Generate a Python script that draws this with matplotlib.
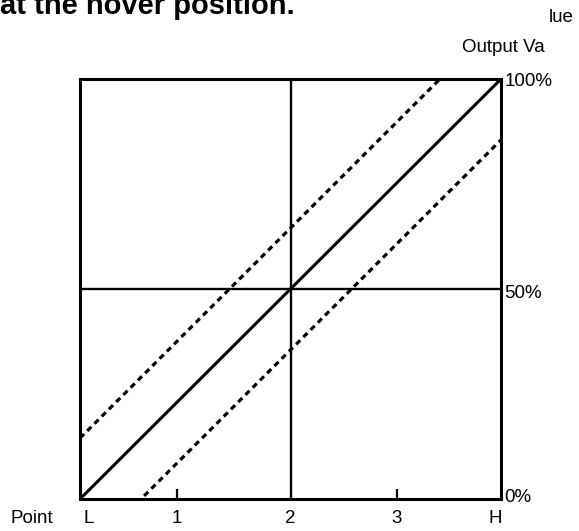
import matplotlib.pyplot as plt
import numpy as np

plt.rcParams['font.family'] = ['Liberation Sans', 'DejaVu Sans']

# input points (L..H mapped to 0..1) and output value in %
tick_pos = [0.23, 0.753]
label_pos = [0.02, 0.23, 0.5, 0.753, 0.987]
tick_labels = ['L', '1', '2', '3', 'H']
x_line = [0.0, 1.0]
y_center = [0.0, 100.0]
band = 14.5  # dashed tolerance lines, +/- %
y_lab_pos = [0.3, 49.0, 99.3]
y_lab_text = ['0%', '50%', '100%']

fig = plt.figure(figsize=(5.79, 5.31), dpi=100)
ax = fig.add_axes([80 / 579, 32 / 531, 421 / 579, 420 / 531])

x = np.array(x_line)
yc = np.array(y_center)
ax.plot(x, yc, color='black', lw=2.2, solid_capstyle='butt')
ax.plot(x, yc + band, color='black', lw=2.3, linestyle=(0, (1.8, 1.4)))
ax.plot(x, yc - band, color='black', lw=2.3, linestyle=(0, (1.8, 1.4)))

# center cross
ax.axvline(0.5, color='black', lw=1.7)
ax.axhline(50, color='black', lw=1.7)

ax.set_xlim(0, 1)
ax.set_ylim(0, 100)
for s in ax.spines.values():
    s.set_linewidth(2.2)

ax.set_xticks(tick_pos)
ax.set_xticklabels([])
ax.tick_params(axis='x', direction='in', length=7, width=1.6)
ax.set_yticks([])

for p, lab in zip(label_pos, tick_labels):
    ax.text(p, -2.6, lab, ha='center', va='top', fontsize=13.5)
ax.text(-0.115, -2.6, 'Point', ha='center', va='top', fontsize=13.5)

for v, lab in zip(y_lab_pos, y_lab_text):
    ax.text(1.008, v, lab, ha='left', va='center', fontsize=13.5)

fig.text(462 / 579, 1 - 47 / 531, 'Output Va', ha='left', va='center', fontsize=13.5)
fig.text(549 / 579, 1 - 17 / 531, 'lue', ha='left', va='center', fontsize=13.5)
fig.text(0.0, 1 - 14 / 531, 'at the hover position.', ha='left', va='baseline',
         fontsize=21, fontweight='bold')

fig.savefig('out.png', dpi=100)
